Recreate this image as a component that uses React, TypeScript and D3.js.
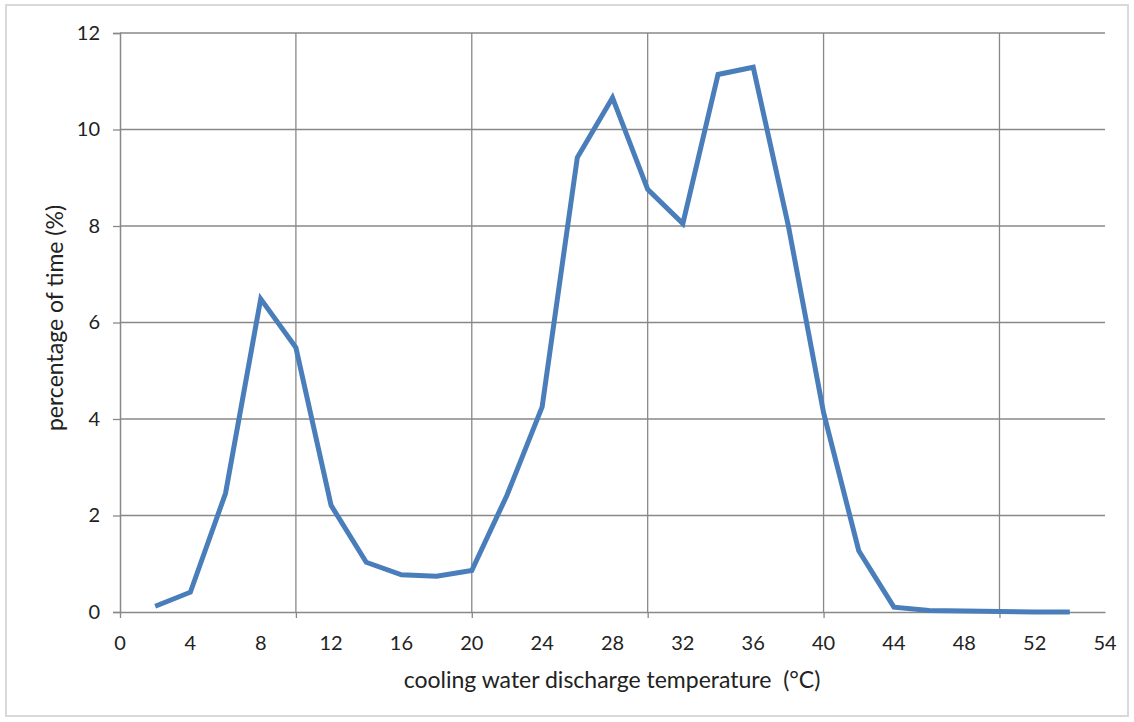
import {useEffect, useRef} from "react";
import * as d3 from "d3";

// temperature bins (°C) and share of time (%)
const temps = [2, 4, 6, 8, 10, 12, 14, 16, 18, 20, 22, 24, 26, 28, 30, 32, 34, 36, 38, 40, 42, 44, 46, 48, 50, 52, 54];
const percent = [0.12, 0.41, 2.46, 6.49, 5.48, 2.21, 1.03, 0.77, 0.74, 0.86, 2.42, 4.25, 9.42, 10.66, 8.76, 8.05, 11.14, 11.29, 8.0, 4.13, 1.27, 0.1, 0.03, 0.02, 0.01, 0.0, 0.0];

// x tick labels: value where it sits, text shown
const xLabelPos = [0, 4, 8, 12, 16, 20, 24, 28, 32, 36, 40, 44, 48, 52, 56];
const xLabelText = ["0", "4", "8", "12", "16", "20", "24", "28", "32", "36", "40", "44", "48", "52", "54"];
const xGrid = [0, 10, 20, 30, 40, 50];
const yTicks = [0, 2, 4, 6, 8, 10, 12];

const FONT = "Lato, 'Open Sans', sans-serif";

const App = () => {
    const ref = useRef<SVGSVGElement | null>(null);

    useEffect(() => {
        const svg = d3.select(ref.current);
        svg.selectAll("*").remove();

        const margin = {left: 120, top: 33, right: 1105, bottom: 612};

        const x = d3.scaleLinear().domain([0, 56]).range([margin.left, margin.right]);
        const y = d3.scaleLinear().domain([0, 12]).range([margin.bottom, margin.top]);

        // outer frame
        svg.append("rect")
            .attr("x", 6).attr("y", 5)
            .attr("width", 1122).attr("height", 711)
            .attr("fill", "white")
            .attr("stroke", "#d9d9d9")
            .attr("stroke-width", 2);

        const gridColor = "#888888";

        // horizontal gridlines
        svg.append("g").selectAll("line")
            .data(yTicks.filter(d => d > 0))
            .join("line")
            .attr("x1", x(0)).attr("x2", x(56))
            .attr("y1", d => y(d)).attr("y2", d => y(d))
            .attr("stroke", gridColor).attr("stroke-width", 1.3);

        // vertical gridlines
        svg.append("g").selectAll("line")
            .data(xGrid.filter(d => d > 0))
            .join("line")
            .attr("x1", d => x(d)).attr("x2", d => x(d))
            .attr("y1", y(12)).attr("y2", y(0))
            .attr("stroke", gridColor).attr("stroke-width", 1.3);

        // y axis
        const yAxis = svg.append("g")
            .attr("transform", `translate(${x(0)},0)`)
            .call(d3.axisLeft(y).tickValues(yTicks).tickSize(7).tickPadding(13).tickFormat(d3.format("d")));
        yAxis.select(".domain").attr("stroke", gridColor).attr("stroke-width", 1.5);
        yAxis.selectAll(".tick line").attr("stroke", gridColor).attr("stroke-width", 1.3);
        yAxis.selectAll(".tick text")
            .attr("font-family", FONT).attr("font-size", 20).attr("fill", "#222");

        // x axis: ticks on the 10s, labels on their own positions
        const xAxis = svg.append("g")
            .attr("transform", `translate(0,${y(0)})`)
            .call(d3.axisBottom(x).tickValues(xGrid).tickSize(6).tickSizeOuter(0).tickFormat(() => ""));
        xAxis.select(".domain").attr("stroke", gridColor).attr("stroke-width", 1.5);
        xAxis.selectAll(".tick line").attr("stroke", gridColor).attr("stroke-width", 1.3);

        svg.append("g").selectAll("text")
            .data(xLabelPos)
            .join("text")
            .attr("x", d => x(d))
            .attr("y", y(0) + 38)
            .attr("text-anchor", "middle")
            .attr("font-family", FONT).attr("font-size", 20).attr("fill", "#222")
            .text((d, i) => xLabelText[i]);

        // data line
        const pts = temps.map((t, i) => [t, percent[i]] as [number, number]);
        svg.append("path")
            .datum(pts)
            .attr("fill", "none")
            .attr("stroke", "#4a7ebb")
            .attr("stroke-width", 5)
            .attr("stroke-linejoin", "miter")
            .attr("d", d3.line<[number, number]>()
                .x(d => x(d[0]))
                .y(d => y(d[1]))
            );

        // axis titles
        svg.append("text")
            .attr("x", 612).attr("y", 688)
            .attr("text-anchor", "middle")
            .attr("font-family", FONT).attr("font-size", 23).attr("fill", "#222")
            .attr("xml:space", "preserve")
            .text("cooling water discharge temperature  (°C)");

        svg.append("text")
            .attr("transform", `translate(63,318) rotate(-90)`)
            .attr("text-anchor", "middle")
            .attr("font-family", FONT).attr("font-size", 23).attr("fill", "#222")
            .text("percentage of time (%)");
    }, []);

    return (
        <svg ref={ref} width={1134} height={722}
             style={{position: "absolute", left: 0, top: 0, background: "white"}}/>
    );
};

export default App;
